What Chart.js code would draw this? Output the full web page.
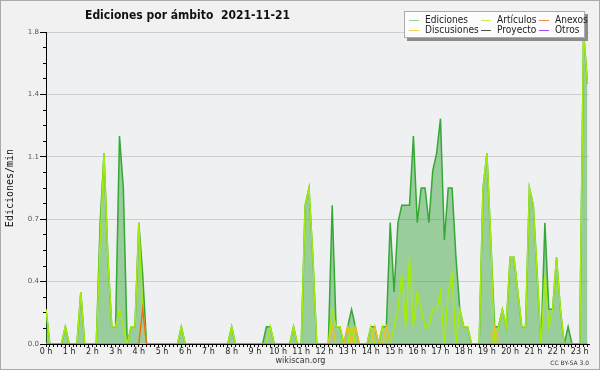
<!DOCTYPE html>
<html><head><meta charset="utf-8">
<script src="https://cdn.jsdelivr.net/npm/chart.js@4"></script>
<style>
html,body{margin:0;padding:0;background:#f1f1f1;}
#wrap{position:relative;width:600px;height:370px;background:#f1f1f1;overflow:hidden;}
#frame{position:absolute;left:0;top:0;width:600px;height:370px;box-sizing:border-box;border:1px solid #a9a9a9;pointer-events:none;}
canvas{position:absolute;left:0;top:0;}
#title{position:absolute;left:85px;top:8px;font:bold 13px "DejaVu Sans";line-height:13px;white-space:pre;transform-origin:0 0;color:#111;}
#legend{position:absolute;left:404px;top:11px;width:179px;height:25px;background:#fcfcfc;border:1px solid #ababab;box-shadow:3px 3px 0 #8c8c8c;font:10px "DejaVu Sans";line-height:10px;color:#222;}
.sw{position:absolute;width:10px;height:1px;}
.lt{position:absolute;white-space:nowrap;transform-origin:0 0;}
#foot{position:absolute;left:240px;width:121px;top:357px;text-align:center;font:8px "DejaVu Sans";line-height:8px;color:#333;}
#lic{position:absolute;right:11px;top:360px;font:6px "DejaVu Sans";line-height:6px;color:#333;}
</style></head>
<body>
<div id="wrap">
<canvas id="c" width="600" height="370"></canvas>
<div id="title">Ediciones por ámbito  2021-11-21</div>
<div id="legend"></div>
<div id="foot">wikiscan.org</div>
<div id="lic">CC BY-SA 3.0</div>
<div id="frame"></div>
</div>
<script>
// 10-minute bins starting at 00:00 (values in edits per minute)
const binMinutes = 10;
const ediciones = [
  0.2,0,0,0,0,0.1,0,0,0,0.3,0,0,
  0,0,0.7,1.1,0.5,0.1,0.1,1.2,0.9,0,0.1,0.1,
  0.7,0.4,0,0,0,0,0,0,0,0,0,0.1,
  0,0,0,0,0,0,0,0,0,0,0,0,
  0.1,0,0,0,0,0,0,0,0,0.1,0.1,0,
  0,0,0,0,0.1,0,0,0.8,0.9,0.5,0,0,
  0,0,0.8,0.1,0.1,0,0.1,0.2,0.1,0,0,0,
  0.1,0.1,0,0.1,0.1,0.7,0.3,0.7,0.8,0.8,0.8,1.2,
  0.7,0.9,0.9,0.7,1.0,1.1,1.3,0.6,0.9,0.9,0.5,0.2,
  0.1,0.1,0,0,0,0.9,1.1,0.6,0.1,0.1,0.2,0.1,
  0.5,0.5,0.3,0.1,0.1,0.9,0.8,0.4,0,0.7,0.2,0.2,
  0.5,0.2,0,0.1,0,0,0,1.8,1.5
];
const articulos = [
  0.2,0,0,0,0,0.1,0,0,0,0.3,0,0,
  0,0,0.6,1.1,0.5,0.1,0.1,0.2,0.1,0,0.1,0.1,
  0.7,0.2,0,0,0,0,0,0,0,0,0,0.1,
  0,0,0,0,0,0,0,0,0,0,0,0,
  0.1,0,0,0,0,0,0,0,0,0,0.1,0,
  0,0,0,0,0.1,0,0,0.8,0.9,0.5,0,0,
  0,0,0.2,0.1,0.1,0,0,0.1,0,0,0,0,
  0.1,0,0,0.1,0,0,0.1,0.2,0.4,0.1,0.5,0.1,
  0.3,0.2,0.1,0.1,0.2,0.2,0.3,0,0.3,0.4,0,0.2,
  0.1,0.1,0,0,0,0.9,1.1,0.6,0,0.1,0.2,0.1,
  0.5,0.5,0.3,0.1,0.1,0.9,0.8,0.4,0,0.4,0.1,0.2,
  0.5,0.2,0,0,0,0,0,1.8,1.5
];
const discusiones = [
  0,0,0,0,0,0,0,0,0,0,0,0,
  0,0,0,0,0,0,0,0,0,0,0,0,
  0,0,0,0,0,0,0,0,0,0,0,0,
  0,0,0,0,0,0,0,0,0,0,0,0,
  0,0,0,0,0,0,0,0,0,0,0,0,
  0,0,0,0,0,0,0,0,0,0,0,0,
  0,0,0.1,0,0,0,0.1,0,0.1,0,0,0,
  0,0.1,0,0,0.1,0,0,0,0,0,0,0,
  0,0,0,0,0,0,0,0,0,0,0,0,
  0,0,0,0,0,0,0,0,0.1,0,0,0,
  0,0,0,0,0,0,0,0,0,0,0,0,
  0,0,0,0,0,0,0,0,0
];
const anexos = [
  0,0,0,0,0,0,0,0,0,0,0,0,
  0,0,0,0,0,0,0,0,0,0,0,0,
  0,0.2,0,0,0,0,0,0,0,0,0,0,
  0,0,0,0,0,0,0,0,0,0,0,0,
  0,0,0,0,0,0,0,0,0,0,0,0,
  0,0,0,0,0,0,0,0,0,0,0,0,
  0,0,0,0,0,0,0,0,0,0,0,0,
  0,0,0,0,0,0,0,0,0,0,0,0,
  0,0,0,0,0,0,0,0,0,0,0,0,
  0,0,0,0,0,0,0,0,0,0,0,0,
  0,0,0,0,0,0,0,0,0,0,0,0,
  0,0,0,0,0,0,0,0,0
];
const proyecto = [];
const otros = [];
const seriesNames = ['Ediciones','Discusiones','Artículos','Proyecto','Anexos','Otros'];
const yTickValues = [0, 0.36, 0.72, 1.08, 1.44, 1.8];

const pts = arr => arr.map((v,i) => ({x: i*binMinutes, y: v}));

const lineColors = {Ediciones:'#35a835', 'Artículos':'#a6ec0a', Discusiones:'#f0c020', Anexos:'#f07018', Proyecto:'#555555', Otros:'#9040e0'};
const legendColors = {Ediciones:'#8fd48f', Discusiones:'#f6d24a', 'Artículos':'#c4ee58', Proyecto:'#505050', Anexos:'#f08a58', Otros:'#9a4cf0'};

const plotBg = { id:'plotBg', beforeDraw(c){ const {ctx, chartArea:a} = c; ctx.save(); ctx.fillStyle='#eef0f2'; ctx.fillRect(a.left,a.top,a.right-a.left,a.bottom-a.top); ctx.restore(); } };

const mk = (label, arr, order, extra) => Object.assign({
  label, data: pts(arr), borderColor: lineColors[label], borderWidth: 1.5,
  pointRadius: 0, tension: 0, fill: false, order
}, extra || {});

new Chart(document.getElementById('c'), {
  type: 'line',
  data: { datasets: [
    mk('Ediciones', ediciones, 10, {fill:'origin', backgroundColor:'rgba(70,170,70,0.5)'}),
    mk('Artículos', articulos, 9),
    mk('Discusiones', discusiones, 8),
    mk('Anexos', anexos, 7),
    mk('Proyecto', proyecto, 6),
    mk('Otros', otros, 5)
  ]},
  options: {
    responsive: false, animation: false, devicePixelRatio: 1,
    layout: { padding: { left: 0, right: 11, top: 32, bottom: 0 } },
    plugins: { legend: { display: false }, title: { display: false }, tooltip: { enabled: false } },
    scales: {
      x: {
        type: 'linear', min: 0, max: 1404, z: 1,
        afterFit(s){ s.height = 26; },
        ticks: { stepSize: 10, autoSkip: false, maxRotation: 0, minRotation: 0, includeBounds: false, padding: 0,
          font: { family: 'DejaVu Sans', size: 8 }, color: '#222',
          callback: v => (Math.round(v) % 60 === 0) ? (Math.round(v)/60) + ' h' : '' },
        grid: { drawOnChartArea: false, tickLength: 3, color: '#000' },
        border: { color: '#000', width: 1 }
      },
      y: {
        type: 'linear', position: 'left', weight: 1, min: 0, max: 1.8,
        afterFit(s){ s.width = 46; },
        afterBuildTicks(s){ s.ticks = yTickValues.map(v => ({value: v})); },
        ticks: { font: { family: 'DejaVu Sans', size: 7 }, color: '#555', padding: 1, callback: v => v.toFixed(1) },
        grid: { color: '#cdcdcd', lineWidth: 1, tickLength: 6, tickColor: '#000' },
        border: { display: true, color: '#000', width: 1 },
        title: { display: true, text: 'Ediciones/min', font: { family: 'DejaVu Sans Mono', size: 10 }, color: '#111', padding: { top: 4, bottom: 0 } }
      },
      y2: {
        type: 'linear', position: 'left', weight: 0, min: 0, max: 1.8,
        afterFit(s){ s.width = 0; },
        ticks: { stepSize: 0.09, display: false },
        grid: { drawOnChartArea: false, tickLength: 3, color: '#000' },
        border: { display: false }
      }
    }
  },
  plugins: [plotBg]
});

// legend (3 columns x 2 rows)
const lg = document.getElementById('legend');
const colX = [4, 76, 134], rowY = [3, 13];
const texts = [];
seriesNames.forEach((n, k) => {
  const col = Math.floor(k/2), row = k%2;
  const sw = document.createElement('div'); sw.className='sw';
  sw.style.left = colX[col]+'px'; sw.style.top = (rowY[row]+5)+'px'; sw.style.background = legendColors[n];
  const t = document.createElement('div'); t.className='lt'; t.textContent = n;
  t.style.left = (colX[col]+16)+'px'; t.style.top = rowY[row]+'px';
  lg.appendChild(sw); lg.appendChild(t); texts.push(t);
});
const lscale = 43 / texts[0].getBoundingClientRect().width;
texts.forEach(t => t.style.transform = 'scaleX(' + lscale + ')');
// fit title width to reference
const tt = document.getElementById('title');
const w = tt.getBoundingClientRect().width;
tt.style.transform = 'scaleX(' + (205 / w) + ')';
</script>
</body></html>
